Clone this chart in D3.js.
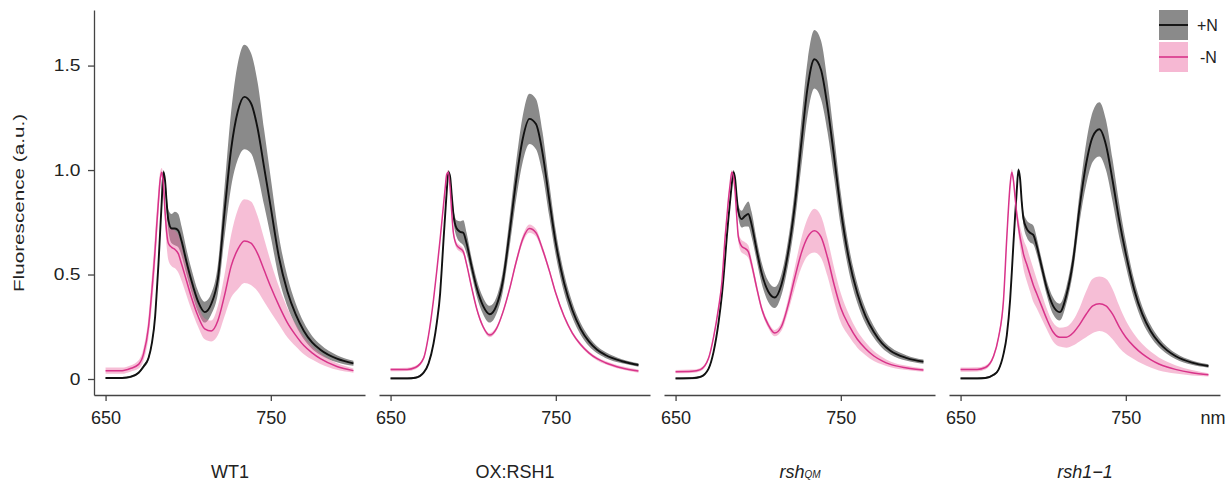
<!DOCTYPE html>
<head>
	<meta charset="UTF-8">
	<script src="https://d3js.org/d3.v7.min.js"></script>
	<title>Fluorescence spectra</title>
<style>
	body{
		margin: 0;
		background-color: white;
	}
	text{
		font-family: "Liberation Sans", Arial, sans-serif;
		fill: #222;
	}
</style>
</head>

<body>
	<svg width=1230 height=487></svg>
</body>

<script>
	// Wavelengths (nm) the spectra were read at
	var wavelengths = [650, 660, 665, 670, 673, 676, 678, 680, 681, 682, 683, 684, 685, 686, 687, 688, 690, 692, 694, 696, 699, 702, 706, 710, 714, 718, 722, 726, 730, 734, 738, 742, 746, 750, 755, 760, 765, 770, 775, 780, 790, 800];

	var panelNames = ["WT1", "OX:RSH1", "rshQM", "rsh1\u22121"];
	var seriesNames = ["+N", "-N"];
	var xTicks = [650, 750];
	var yTicks = [0, 0.5, 1.0, 1.5];

	// WT1
	var wt1PlusMean = [0.005, 0.005, 0.01, 0.03, 0.06, 0.10, 0.17, 0.30, 0.42, 0.55, 0.70, 0.85, 0.99, 0.95, 0.84, 0.76, 0.72, 0.72, 0.71, 0.66, 0.56, 0.47, 0.37, 0.32, 0.36, 0.48, 0.80, 1.10, 1.28, 1.35, 1.32, 1.20, 1.01, 0.82, 0.58, 0.42, 0.31, 0.23, 0.175, 0.14, 0.097, 0.075];
	var wt1PlusSd = [0.005, 0.005, 0.005, 0.005, 0.008, 0.01, 0.01, 0.015, 0.015, 0.015, 0.015, 0.015, 0.01, 0.02, 0.04, 0.05, 0.07, 0.08, 0.08, 0.07, 0.06, 0.055, 0.05, 0.05, 0.05, 0.07, 0.12, 0.18, 0.23, 0.25, 0.24, 0.22, 0.18, 0.14, 0.10, 0.072, 0.053, 0.04, 0.031, 0.025, 0.017, 0.012];
	var wt1MinusMean = [0.04, 0.04, 0.05, 0.07, 0.12, 0.25, 0.42, 0.62, 0.74, 0.85, 0.95, 0.99, 0.93, 0.80, 0.70, 0.65, 0.63, 0.62, 0.60, 0.55, 0.47, 0.39, 0.30, 0.24, 0.23, 0.28, 0.40, 0.54, 0.62, 0.66, 0.65, 0.60, 0.52, 0.44, 0.35, 0.27, 0.21, 0.16, 0.125, 0.097, 0.06, 0.04];
	var wt1MinusSd = [0.015, 0.015, 0.015, 0.02, 0.03, 0.05, 0.07, 0.08, 0.07, 0.06, 0.04, 0.02, 0.03, 0.05, 0.07, 0.08, 0.09, 0.09, 0.09, 0.08, 0.07, 0.06, 0.05, 0.05, 0.05, 0.07, 0.10, 0.15, 0.19, 0.20, 0.20, 0.18, 0.15, 0.12, 0.09, 0.07, 0.053, 0.041, 0.032, 0.025, 0.016, 0.01];

	// OX:RSH1
	var oxPlusMean = [0.003, 0.003, 0.006, 0.03, 0.075, 0.17, 0.27, 0.41, 0.53, 0.66, 0.78, 0.90, 0.99, 0.97, 0.88, 0.79, 0.72, 0.705, 0.70, 0.65, 0.54, 0.44, 0.35, 0.31, 0.35, 0.47, 0.70, 0.95, 1.15, 1.245, 1.22, 1.08, 0.86, 0.65, 0.46, 0.33, 0.24, 0.18, 0.14, 0.115, 0.085, 0.067];
	var oxPlusSd = [0.005, 0.005, 0.005, 0.005, 0.005, 0.005, 0.005, 0.005, 0.005, 0.01, 0.01, 0.01, 0.01, 0.01, 0.02, 0.03, 0.04, 0.05, 0.06, 0.05, 0.04, 0.04, 0.04, 0.04, 0.04, 0.05, 0.07, 0.09, 0.11, 0.12, 0.12, 0.10, 0.08, 0.06, 0.046, 0.036, 0.028, 0.022, 0.017, 0.014, 0.01, 0.008];
	var oxMinusMean = [0.045, 0.046, 0.055, 0.10, 0.21, 0.38, 0.52, 0.67, 0.75, 0.83, 0.91, 0.98, 0.99, 0.92, 0.80, 0.70, 0.64, 0.625, 0.61, 0.55, 0.44, 0.34, 0.25, 0.21, 0.24, 0.32, 0.43, 0.56, 0.67, 0.72, 0.70, 0.62, 0.52, 0.41, 0.30, 0.22, 0.165, 0.125, 0.097, 0.078, 0.053, 0.038];
	var oxMinusSd = [0.008, 0.008, 0.008, 0.008, 0.008, 0.008, 0.008, 0.008, 0.008, 0.008, 0.008, 0.01, 0.01, 0.01, 0.01, 0.012, 0.015, 0.015, 0.015, 0.012, 0.01, 0.01, 0.01, 0.01, 0.01, 0.01, 0.012, 0.015, 0.018, 0.02, 0.018, 0.015, 0.012, 0.01, 0.01, 0.008, 0.008, 0.008, 0.008, 0.008, 0.008, 0.008];

	// rshQM
	var qmPlusMean = [0.003, 0.004, 0.01, 0.05, 0.13, 0.27, 0.40, 0.58, 0.68, 0.77, 0.85, 0.93, 0.99, 0.96, 0.87, 0.80, 0.765, 0.78, 0.79, 0.74, 0.62, 0.51, 0.42, 0.39, 0.45, 0.60, 0.82, 1.12, 1.40, 1.53, 1.48, 1.30, 1.06, 0.81, 0.57, 0.41, 0.30, 0.225, 0.17, 0.135, 0.10, 0.083];
	var qmPlusSd = [0.005, 0.005, 0.005, 0.005, 0.005, 0.005, 0.005, 0.008, 0.008, 0.01, 0.01, 0.01, 0.01, 0.015, 0.02, 0.03, 0.04, 0.05, 0.06, 0.06, 0.05, 0.05, 0.05, 0.05, 0.05, 0.06, 0.08, 0.11, 0.13, 0.14, 0.14, 0.12, 0.10, 0.08, 0.06, 0.046, 0.036, 0.028, 0.022, 0.018, 0.013, 0.01];
	var qmMinusMean = [0.035, 0.037, 0.045, 0.10, 0.20, 0.34, 0.46, 0.68, 0.77, 0.86, 0.93, 0.99, 0.97, 0.90, 0.78, 0.68, 0.635, 0.625, 0.61, 0.55, 0.44, 0.34, 0.26, 0.22, 0.25, 0.35, 0.48, 0.60, 0.68, 0.71, 0.68, 0.58, 0.45, 0.34, 0.255, 0.19, 0.145, 0.11, 0.087, 0.07, 0.053, 0.043];
	var qmMinusSd = [0.008, 0.008, 0.008, 0.008, 0.008, 0.008, 0.008, 0.008, 0.008, 0.01, 0.01, 0.01, 0.01, 0.015, 0.02, 0.025, 0.03, 0.03, 0.03, 0.025, 0.02, 0.015, 0.015, 0.015, 0.02, 0.03, 0.05, 0.07, 0.09, 0.105, 0.10, 0.09, 0.08, 0.07, 0.052, 0.04, 0.031, 0.024, 0.018, 0.014, 0.01, 0.008];

	// rsh1-1
	var r11PlusMean = [0.003, 0.003, 0.005, 0.02, 0.045, 0.12, 0.21, 0.38, 0.51, 0.65, 0.78, 0.90, 1.0, 0.96, 0.85, 0.77, 0.72, 0.70, 0.69, 0.64, 0.54, 0.44, 0.35, 0.32, 0.40, 0.56, 0.82, 1.03, 1.16, 1.195, 1.12, 0.95, 0.76, 0.60, 0.43, 0.31, 0.23, 0.175, 0.137, 0.11, 0.078, 0.062];
	var r11PlusSd = [0.005, 0.005, 0.005, 0.005, 0.005, 0.005, 0.005, 0.005, 0.008, 0.01, 0.01, 0.01, 0.01, 0.01, 0.02, 0.03, 0.04, 0.045, 0.045, 0.04, 0.035, 0.035, 0.04, 0.04, 0.04, 0.05, 0.07, 0.10, 0.12, 0.13, 0.12, 0.10, 0.08, 0.06, 0.046, 0.036, 0.028, 0.022, 0.017, 0.014, 0.01, 0.008];
	var r11MinusMean = [0.045, 0.046, 0.055, 0.11, 0.20, 0.38, 0.68, 0.93, 0.99, 0.95, 0.87, 0.79, 0.73, 0.68, 0.64, 0.60, 0.55, 0.50, 0.45, 0.41, 0.35, 0.29, 0.225, 0.20, 0.20, 0.22, 0.26, 0.31, 0.35, 0.36, 0.35, 0.31, 0.25, 0.20, 0.155, 0.12, 0.093, 0.072, 0.057, 0.046, 0.03, 0.02];
	var r11MinusSd = [0.01, 0.01, 0.01, 0.01, 0.012, 0.015, 0.015, 0.015, 0.015, 0.02, 0.025, 0.03, 0.04, 0.05, 0.06, 0.07, 0.08, 0.08, 0.08, 0.07, 0.06, 0.05, 0.045, 0.045, 0.05, 0.06, 0.08, 0.11, 0.13, 0.13, 0.13, 0.12, 0.10, 0.08, 0.06, 0.047, 0.038, 0.031, 0.025, 0.02, 0.013, 0.008];

	var panels = [
		{plus: [wt1PlusMean, wt1PlusSd], minus: [wt1MinusMean, wt1MinusSd]},
		{plus: [oxPlusMean, oxPlusSd], minus: [oxMinusMean, oxMinusSd]},
		{plus: [qmPlusMean, qmPlusSd], minus: [qmMinusMean, qmMinusSd]},
		{plus: [r11PlusMean, r11PlusSd], minus: [r11MinusMean, r11MinusSd]}
	];

	var grayBand = "#8a8a8a";
	var pinkBand = "rgb(236,110,165)";
	var pinkLine = "#d8338a";
	var axisColor = "#444";

	var svg = d3.select("svg");

	// Shared y scale
	var y = d3.scaleLinear()
				.domain([-0.0766, 1.766])
				.range([395, 10]);

	// Turn mean/sd arrays into point objects
	function toPoints(pair){
		return wavelengths.map(function(nm, i){
			return {nm: nm, m: pair[0][i], s: pair[1][i]};
		});
	}

	panels.forEach(function(p, i){
		var x = d3.scaleLinear()
					.domain([643, 807])
					.range([94 + 285*i, 365 + 285*i]);

		var band = d3.area()
						.x(function(d) {return x(d.nm)})
						.y0(function(d) {return y(d.m - d.s)})
						.y1(function(d) {return y(d.m + d.s)})
						.curve(d3.curveMonotoneX);
		var line = d3.line()
						.x(function(d) {return x(d.nm)})
						.y(function(d) {return y(d.m)})
						.curve(d3.curveMonotoneX);

		var plus = toPoints(p.plus);
		var minus = toPoints(p.minus);
		var g = svg.append("g");

		// Bands first, then mean lines
		g.append("path").attr("d", band(plus))
			.attr("fill", grayBand);
		g.append("path").attr("d", band(minus))
			.attr("fill", pinkBand)
			.attr("fill-opacity", 0.45);
		g.append("path").attr("d", line(plus))
			.attr("fill", "none")
			.attr("stroke", "#111")
			.attr("stroke-width", 1.9);
		g.append("path").attr("d", line(minus))
			.attr("fill", "none")
			.attr("stroke", pinkLine)
			.attr("stroke-width", 1.5);

		// x axis
		var xAxis = svg.append("g")
						.attr("transform", "translate(0,395)")
						.call(d3.axisBottom(x).tickValues(xTicks).tickSize(6).tickSizeOuter(0).tickPadding(10));
		xAxis.selectAll("path, line").attr("stroke", axisColor).attr("stroke-width", 1.3);
		xAxis.selectAll("text")
				.attr("font-size", "18px")
				.attr("font-family", "Liberation Sans, Arial, sans-serif")
				.attr("fill", "#222");

		// Panel title
		var title = svg.append("text")
						.attr("x", 230 + 285*i)
						.attr("y", 478)
						.attr("text-anchor", "middle")
						.attr("font-size", "18px");
		if(i == 2){
			title.append("tspan").attr("font-style", "italic").text("rsh");
			title.append("tspan").attr("font-style", "italic").attr("font-size", "10px").text("QM");
		}
		else if(i == 3){
			title.attr("font-style", "italic").text(panelNames[i]);
		}
		else{
			title.text(panelNames[i]);
		}
	});

	// y axis on the first panel only
	var yAxis = svg.append("g")
					.attr("transform", "translate(94,0)")
					.call(d3.axisLeft(y).tickValues(yTicks).tickSize(6).tickSizeOuter(0).tickPadding(5.25)
							.tickFormat(function(d) {return d == 0 ? "0" : d.toFixed(1)}));
	yAxis.selectAll("path, line").attr("stroke", axisColor).attr("stroke-width", 1.3);
	yAxis.selectAll("text")
			.attr("font-size", "16px")
			.attr("font-family", "Liberation Sans, Arial, sans-serif")
			.attr("fill", "#222")
			.attr("transform", "scale(1.2,1)");

	svg.append("text")
		.attr("text-anchor", "middle")
		.attr("font-size", "15px")
		.attr("transform", "translate(24,203) rotate(-90) scale(1.38,1)")
		.text("Fluorescence (a.u.)");

	// unit label
	svg.append("text")
		.attr("x", 1213)
		.attr("y", 424)
		.attr("text-anchor", "middle")
		.attr("font-size", "18px")
		.text("nm");

	// Legend
	var legend = svg.append("g");
	var legendFill = [grayBand, "rgb(246,184,211)"];
	var legendLine = ["#111", pinkLine];
	var legendTop = [10, 42];
	seriesNames.forEach(function(name, i){
		legend.append("rect")
				.attr("x", 1159)
				.attr("y", legendTop[i])
				.attr("width", 29)
				.attr("height", 30)
				.attr("fill", legendFill[i]);
		legend.append("line")
				.attr("x1", 1159)
				.attr("x2", 1188)
				.attr("y1", legendTop[i] + 15)
				.attr("y2", legendTop[i] + 15)
				.attr("stroke", legendLine[i])
				.attr("stroke-width", i == 0 ? 1.9 : 1.6);
		legend.append("text")
				.attr("x", i == 0 ? 1197 : 1200)
				.attr("y", legendTop[i] + 15)
				.attr("dominant-baseline", "central")
				.attr("font-size", "16px")
				.text(name);
	});
</script>
